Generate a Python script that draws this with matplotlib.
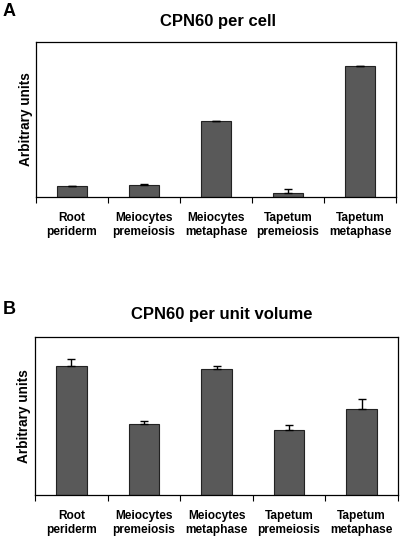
import matplotlib.pyplot as plt

plt.rcParams['font.family'] = ['Liberation Sans', 'DejaVu Sans']

categories = ['Root\nperiderm', 'Meiocytes\npremeiosis', 'Meiocytes\nmetaphase',
              'Tapetum\npremeiosis', 'Tapetum\nmetaphase']

# panel A: CPN60 per cell (arbitrary units)
per_cell = [0.075, 0.077, 0.49, 0.03, 0.846]
per_cell_err = [0.0, 0.011, 0.0, 0.021, 0.0]

# panel B: CPN60 per unit volume (arbitrary units)
per_volume = [0.818, 0.45, 0.80, 0.414, 0.547]
per_volume_err = [0.042, 0.021, 0.016, 0.028, 0.06]

W, H = 400, 536


def draw_panel(ax, values, errors):
    x = range(len(categories))
    ax.bar(x, values, width=0.42, color='#595959', edgecolor='#222222', linewidth=0.8)
    ax.errorbar(x, values, yerr=[[0] * len(errors), errors], fmt='none',
                ecolor='black', elinewidth=1, capsize=3, capthick=1)
    ax.set_xlim(-0.5, len(categories) - 0.5)
    ax.set_ylim(0, 1)
    ax.set_yticks([])
    ax.set_xticks(list(x))
    ax.set_xticklabels(categories, fontsize=8.6, fontweight='bold', linespacing=1.25)
    ax.tick_params(axis='x', which='major', length=0, pad=10.5)
    ax.set_xticks([i - 0.5 for i in range(len(categories) + 1)], minor=True)
    ax.tick_params(axis='x', which='minor', length=4, direction='out', width=0.8)
    ax.text(-0.029, 0.5, 'Arbitrary units', transform=ax.transAxes, rotation=90,
            fontsize=9.8, fontweight='bold', ha='center', va='center')
    for s in ax.spines.values():
        s.set_linewidth(0.9)


fig = plt.figure(figsize=(W / 100, H / 100), dpi=100)
ax1 = fig.add_axes([0.09, 0.632, 0.9, 0.29])
ax2 = fig.add_axes([0.0875, 0.0765, 0.9075, 0.2945])

draw_panel(ax1, per_cell, per_cell_err)
draw_panel(ax2, per_volume, per_volume_err)

# titles and panel letters, placed by baseline in pixels
fig.text(218 / W, 1 - 26 / H, 'CPN60 per cell', fontsize=12, fontweight='bold',
         ha='center', va='baseline')
fig.text(222 / W, 1 - 319.3 / H, 'CPN60 per unit volume', fontsize=12, fontweight='bold',
         ha='center', va='baseline')
fig.text(2.5 / W, 1 - 16 / H, 'A', fontsize=13, fontweight='bold', ha='left', va='baseline')
fig.text(2.5 / W, 1 - 314 / H, 'B', fontsize=13, fontweight='bold', ha='left', va='baseline')

fig.savefig('out.png', dpi=100)
